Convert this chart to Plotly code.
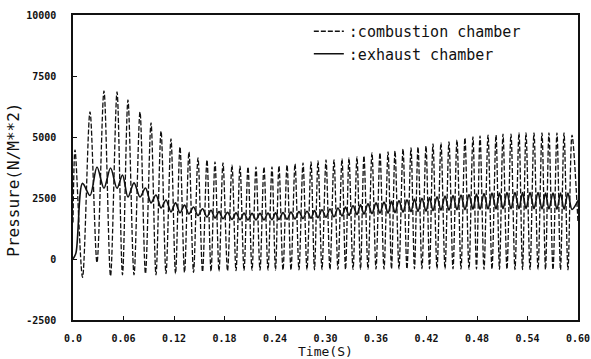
import plotly.graph_objects as go

# ---- data ----
# combustion chamber: local maxima (time s, pressure N/m^2)
comb_peak_t = [0.0024, 0.0202, 0.0368, 0.0523, 0.0653, 0.0796, 0.0927, 0.1046, 0.1164, 0.1271,
               0.1378, 0.1485, 0.1592, 0.1687, 0.1782, 0.1889, 0.1984, 0.2079, 0.2174, 0.2269,
               0.2364, 0.2447, 0.2543, 0.2638, 0.2733, 0.2828, 0.2911, 0.3006, 0.3101, 0.3196,
               0.3279, 0.3374, 0.3457, 0.3552, 0.3647, 0.3743, 0.3826, 0.3921, 0.4016, 0.4099,
               0.4194, 0.4277, 0.4372, 0.4467, 0.4562, 0.4657, 0.4752, 0.4836, 0.4931, 0.5026,
               0.5109, 0.5204, 0.5299, 0.5382, 0.5477, 0.5572, 0.5655, 0.5750, 0.5834, 0.5929]
comb_peak_p = [4470, 6030, 6890, 6850, 6520, 6030, 5580, 5250, 4920, 4590,
               4390, 4140, 4060, 3980, 3940, 3850, 3810, 3770, 3770, 3770,
               3770, 3810, 3850, 3900, 3940, 3980, 4020, 4060, 4060, 4100,
               4140, 4180, 4220, 4350, 4350, 4390, 4430, 4510, 4550, 4590,
               4630, 4720, 4760, 4800, 4880, 4960, 5000, 5040, 5080, 5080,
               5120, 5120, 5170, 5170, 5170, 5170, 5170, 5170, 5170, 5080]
# combustion chamber: local minima
comb_trough_t = [0.0113, 0.0285, 0.0446, 0.0588, 0.0725, 0.0861, 0.0986, 0.1105, 0.1218, 0.1325,
                 0.1432, 0.1539, 0.1640, 0.1735, 0.1836, 0.1937, 0.2032, 0.2127, 0.2222, 0.2317,
                 0.2406, 0.2495, 0.2590, 0.2685, 0.2780, 0.2869, 0.2958, 0.3053, 0.3148, 0.3238,
                 0.3327, 0.3416, 0.3505, 0.3600, 0.3695, 0.3784, 0.3873, 0.3968, 0.4057, 0.4146,
                 0.4236, 0.4325, 0.4420, 0.4515, 0.4610, 0.4705, 0.4794, 0.4883, 0.4978, 0.5067,
                 0.5156, 0.5251, 0.5341, 0.5430, 0.5525, 0.5614, 0.5703, 0.5792, 0.5881]
comb_trough_p = [-750, -150, -700, -650, -650, -600, -650, -600, -600, -550,
                 -550, -520, -500, -500, -480, -480, -470, -460, -460, -450,
                 -450, -450, -450, -440, -440, -440, -430, -430, -420, -420,
                 -420, -420, -410, -410, -410, -400, -400, -400, -400, -400,
                 -400, -400, -400, -400, -410, -410, -410, -420, -420, -420,
                 -420, -430, -430, -430, -430, -430, -440, -440, -440]
comb_ends_t = [0.0, 0.6]
comb_ends_p = [1500, 1500]

# exhaust chamber: local maxima and minima
exh_max_t = comb_trough_t
exh_max_p = [3100, 3770, 3730, 3440, 3120, 2910, 2620, 2420, 2300, 2210,
             2130, 2060, 2000, 1940, 1910, 1890, 1880, 1870, 1870, 1880,
             1890, 1900, 1920, 1940, 1960, 1990, 2020, 2050, 2090, 2130,
             2180, 2220, 2260, 2300, 2330, 2360, 2400, 2430, 2460, 2490,
             2520, 2550, 2580, 2600, 2620, 2640, 2660, 2680, 2700, 2700,
             2720, 2720, 2720, 2720, 2720, 2700, 2700, 2700, 2700]
exh_min_t = [0.0035] + comb_peak_t[1:]
exh_min_p = [250, 2600, 2900, 2900, 2540, 2540, 2300, 2090, 1930, 1890,
             1850, 1780, 1720, 1680, 1650, 1620, 1610, 1600, 1600, 1600,
             1610, 1620, 1630, 1640, 1660, 1670, 1690, 1710, 1730, 1760,
             1790, 1820, 1840, 1860, 1880, 1880, 1900, 1920, 1940, 1950,
             1960, 1980, 2000, 2000, 2020, 2020, 2040, 2040, 2050, 2050,
             2060, 2060, 2060, 2060, 2060, 2050, 2050, 2040, 2040, 2030]
exh_ends_t = [0.0, 0.6]
exh_ends_p = [0, 2400]

x_tickvals = [0.0, 0.06, 0.12, 0.18, 0.24, 0.30, 0.36, 0.42, 0.48, 0.54, 0.60]
x_ticktext = ["0.0", "0.06", "0.12", "0.18", "0.24", "0.30", "0.36", "0.42", "0.48", "0.54", "0.60"]
y_tickvals = [-2500, 0, 2500, 5000, 7500, 10000]
y_ticktext = ["-2500", "0", "2500", "5000", "7500", "10000"]


def merge(*pairs):
    pts = []
    for t, p in pairs:
        pts.extend(zip(t, p))
    pts.sort(key=lambda a: a[0])
    return [a[0] for a in pts], [a[1] for a in pts]


ct, cp = merge((comb_peak_t, comb_peak_p), (comb_trough_t, comb_trough_p), (comb_ends_t, comb_ends_p))
et, ep = merge((exh_max_t, exh_max_p), (exh_min_t, exh_min_p), (exh_ends_t, exh_ends_p))

MONO = "DejaVu Sans Mono"
INK = "#111111"

fig = go.Figure()
fig.add_trace(go.Scatter(x=ct, y=cp, mode="lines", name=":combustion chamber",
                         line=dict(color=INK, width=1.3, dash="5px,2px", shape="spline", smoothing=0.9)))
fig.add_trace(go.Scatter(x=et, y=ep, mode="lines", name=":exhaust chamber",
                         line=dict(color=INK, width=1.6, shape="spline", smoothing=0.9)))

fig.update_layout(
    width=591, height=359,
    margin=dict(l=73, r=13, t=15, b=39, autoexpand=False),
    paper_bgcolor="white", plot_bgcolor="white",
    font=dict(family=MONO, color=INK),
    showlegend=True,
    legend=dict(x=0.467, y=1.0, xanchor="left", yanchor="top",
                bgcolor="rgba(0,0,0,0)", font=dict(family=MONO, size=15, color=INK),
                itemwidth=30, tracegroupgap=0),
    xaxis=dict(range=[0, 0.6], tickvals=x_tickvals, ticktext=x_ticktext,
               showgrid=False, zeroline=False, showline=True, linecolor=INK, linewidth=1.5,
               mirror=True, ticks="inside", ticklen=4, tickcolor=INK, automargin=False,
               tickfont=dict(family=MONO, size=10, color=INK, weight="bold"),
               ticklabelstandoff=8),
    yaxis=dict(range=[-2500, 10000], tickvals=y_tickvals, ticktext=y_ticktext,
               showgrid=False, zeroline=False, showline=True, linecolor=INK, linewidth=1.5,
               mirror=True, ticks="inside", ticklen=4, tickcolor=INK, automargin=False,
               tickfont=dict(family=MONO, size=10, color=INK, weight="bold"),
               ticklabelstandoff=13),
    annotations=[
        dict(text="Time(S)", xref="paper", yref="paper", x=0.5, y=-0.1, xanchor="center",
             yanchor="middle", yshift=-1, showarrow=False,
             font=dict(family=MONO, size=13, color=INK)),
        dict(text="Pressure(N/M**2)", xref="paper", yref="paper", x=0, y=0.46, xanchor="center",
             yanchor="middle", xshift=-59, showarrow=False, textangle=-90,
             font=dict(family=MONO, size=16, color=INK)),
    ],
)

fig.write_html("out.html")
